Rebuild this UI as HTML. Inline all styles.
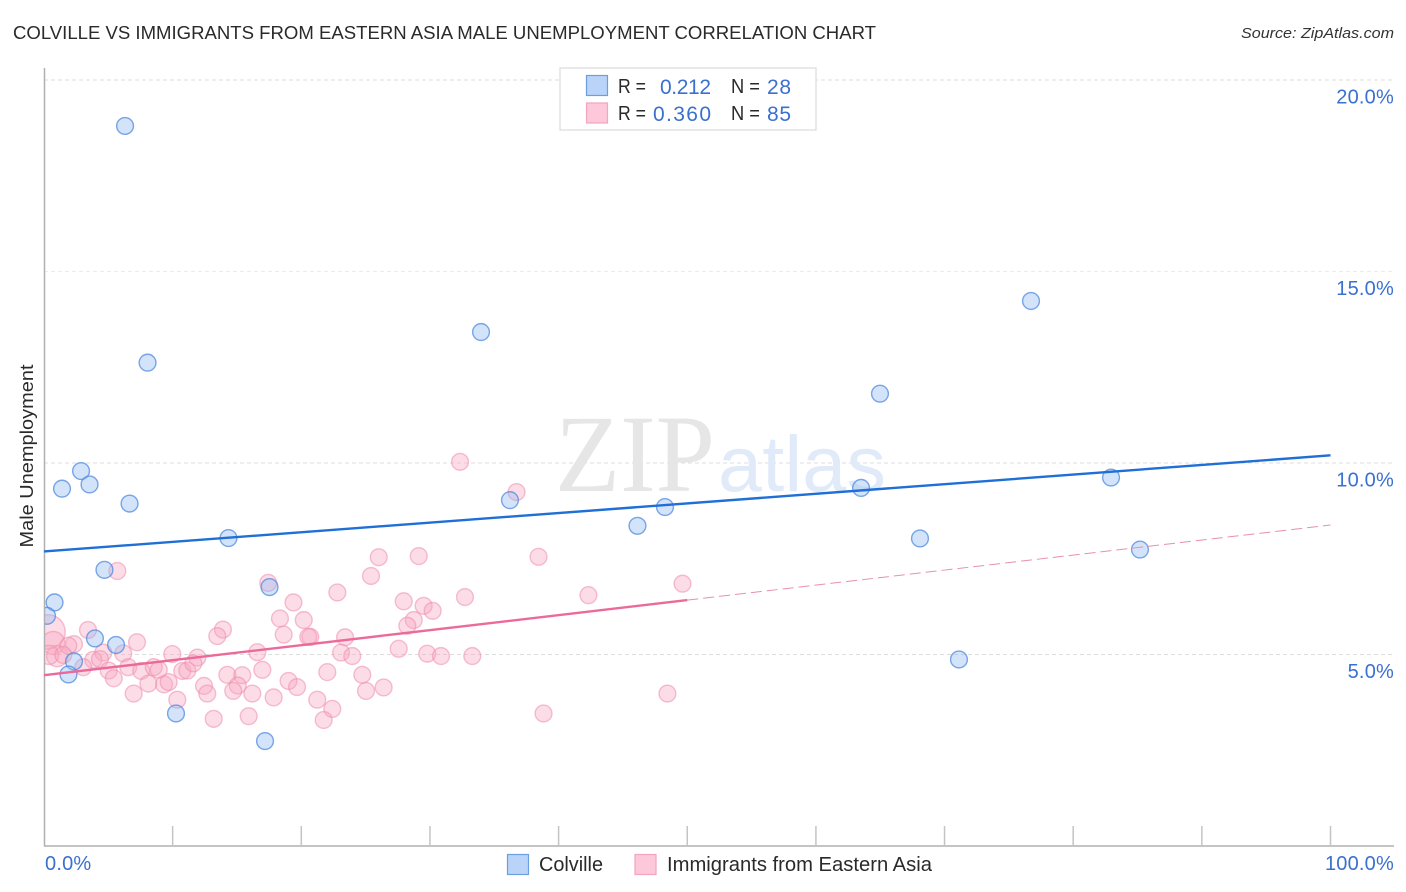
<!DOCTYPE html>
<html lang="en">
<head>
<meta charset="utf-8">
<title>Colville vs Immigrants from Eastern Asia Male Unemployment Correlation Chart</title>
<style>
html,body{margin:0;padding:0;background:#fff;}
svg{display:block;font-family:"Liberation Sans",sans-serif;}
</style>
</head>
<body>
<svg id="chart" xmlns="http://www.w3.org/2000/svg" width="1406" height="892" viewBox="0 0 1406 892">
  <defs><clipPath id="plot-clip"><rect x="45" y="60" width="1349" height="786"/></clipPath></defs>
  <rect x="0" y="0" width="1406" height="892" fill="#ffffff"/>
  <text x="13" y="39" font-size="18.5" fill="#2a2a2a" textLength="863" lengthAdjust="spacingAndGlyphs">COLVILLE VS IMMIGRANTS FROM EASTERN ASIA MALE UNEMPLOYMENT CORRELATION CHART</text>
  <text x="1241" y="38" font-size="15" font-style="italic" fill="#333" textLength="153" lengthAdjust="spacingAndGlyphs">Source: ZipAtlas.com</text>
  <g id="grid"></g>
  <text x="555" y="491" font-family="'Liberation Serif',serif" font-size="110" fill="#e6e6e6" textLength="160" lengthAdjust="spacingAndGlyphs">ZIP</text>
  <text x="718" y="491" font-family="'Liberation Sans',sans-serif" font-size="79" fill="#e1eaf9" textLength="168" lengthAdjust="spacing">atlas</text>
  <g id="axes"></g>
  <g id="marks" clip-path="url(#plot-clip)"></g>
  <g id="lines"></g>
  <text transform="translate(33,456) rotate(-90)" font-size="18.5" fill="#2a2a2a" text-anchor="middle" textLength="183" lengthAdjust="spacingAndGlyphs">Male Unemployment</text>
  <g id="labels"></g>

  <g>
    <rect x="560" y="68" width="256" height="62" fill="#fff" stroke="#dddddd" stroke-width="1.3"/>
    <rect x="586.5" y="75.5" width="21" height="20" fill="#b9d4f8" stroke="#6c9fe0" stroke-width="1.2"/>
    <rect x="586.5" y="103" width="21" height="20" fill="#fcc8da" stroke="#f3a4bf" stroke-width="1.2"/>
    <g font-size="20" fill="#2a2a2a">
      <text x="618" y="93" textLength="28" lengthAdjust="spacingAndGlyphs">R =</text>
      <text x="731" y="93" textLength="29" lengthAdjust="spacingAndGlyphs">N =</text>
      <text x="618" y="120" textLength="28" lengthAdjust="spacingAndGlyphs">R =</text>
      <text x="731" y="120" textLength="29" lengthAdjust="spacingAndGlyphs">N =</text>
    </g>
    <g font-size="21" fill="#3a70d0">
      <text x="660" y="94" textLength="51" lengthAdjust="spacing">0.212</text>
      <text x="767" y="94" textLength="24" lengthAdjust="spacing">28</text>
      <text x="653" y="121" textLength="58" lengthAdjust="spacing">0.360</text>
      <text x="767" y="121" textLength="24" lengthAdjust="spacing">85</text>
    </g>
  </g>

  <g>
    <rect x="507.5" y="854.5" width="21" height="20" fill="#b9d4f8" stroke="#6c9fe0" stroke-width="1.2"/>
    <text x="539" y="871" font-size="20" fill="#2a2a2a" textLength="64" lengthAdjust="spacingAndGlyphs">Colville</text>
    <rect x="635" y="854.5" width="21" height="20" fill="#fcc8da" stroke="#f3a4bf" stroke-width="1.2"/>
    <text x="667" y="871" font-size="20" fill="#2a2a2a" textLength="265" lengthAdjust="spacingAndGlyphs">Immigrants from Eastern Asia</text>
  </g>
</svg>
<script>
const yTickValues = [5, 10, 15, 20];
const yTickLabels = ["5.0%", "10.0%", "15.0%", "20.0%"];
const xTickValues = [10, 20, 30, 40, 50, 60, 70, 80, 90, 100];
const xEndValues = [0, 100];
const xEndLabels = ["0.0%", "100.0%"];

const colvilleX = [6.30,8.05,33.97,76.72,64.98,2.88,1.40,3.54,6.65,36.22,48.27,63.51,82.94,14.34,46.13,68.09,85.19,4.70,17.53,0.82,0.23,3.96,5.60,2.33,1.90,71.12,10.26,17.18];
const colvilleY = [18.80,12.62,13.42,14.23,11.81,9.79,9.33,9.44,8.94,9.03,8.85,9.35,9.62,8.04,8.36,8.03,7.74,7.21,6.76,6.36,6.01,5.42,5.25,4.82,4.48,4.87,3.46,2.74];

const asiaX = [0.31,0.72,1.03,0.39,5.70,17.43,19.39,18.34,18.63,20.19,3.42,13.91,13.47,7.23,2.33,1.89,1.50,4.61,6.16,9.97,11.92,16.58,3.83,4.35,3.05,5.03,5.42,6.55,7.56,8.53,8.92,8.11,6.97,9.33,9.69,10.75,11.14,11.61,10.36,12.44,12.69,14.25,15.41,15.06,14.71,16.19,16.97,19.01,19.67,17.85,13.19,15.91,26.02,29.13,25.42,22.80,27.96,32.72,29.51,30.21,20.70,20.54,23.40,28.74,28.24,27.57,23.09,23.96,29.79,30.86,33.29,22.02,24.74,25.03,26.40,21.24,22.41,21.74,32.34,36.73,38.44,42.32,49.63,48.46,38.83];
const asiaY = [5.59,5.30,4.96,4.99,7.18,6.87,6.36,5.94,5.52,5.90,5.64,5.65,5.48,5.32,5.27,5.23,4.99,5.05,5.03,5.01,4.92,5.06,4.86,4.88,4.67,4.58,4.38,4.67,4.57,4.67,4.60,4.24,3.98,4.22,4.28,4.57,4.58,4.77,3.82,4.18,3.98,4.47,4.46,4.19,4.05,3.98,4.60,4.31,4.15,3.88,3.32,3.39,7.54,7.57,7.05,6.62,6.39,6.50,6.27,6.14,5.46,5.46,5.45,5.90,5.75,5.15,5.05,4.96,5.02,4.96,4.96,4.54,4.47,4.05,4.14,3.82,3.58,3.29,10.03,9.24,7.55,6.55,6.85,3.98,3.46];
const asiaWeights = [4.2, 1.9, 1.6, 1.3];

const colvilleTrend = [7.69, 10.2];
const asiaTrend = [4.46, 8.38];
const asiaTrendSolidEnd = [50];

const SVG_NS = "http://www.w3.org/2000/svg";
function xScale(v) { return 44 + v * 12.865; }
function yScale(v) { return 846 - v * 38.3; }
function trendAt(trend, x) { return trend[0] + (trend[1] - trend[0]) * x / 100; }
function make(tag, parent, attrs, text) {
  const el = document.createElementNS(SVG_NS, tag);
  for (const k in attrs) el.setAttribute(k, attrs[k]);
  if (text !== undefined) el.textContent = text;
  parent.appendChild(el);
  return el;
}
const grid = document.getElementById("grid");
const axes = document.getElementById("axes");
const marks = document.getElementById("marks");
const linesG = document.getElementById("lines");
const labels = document.getElementById("labels");

yTickValues.forEach(function (v, i) {
  const gl = make("line", grid, {x1: 44, x2: 1394, y1: yScale(v), y2: yScale(v), stroke: v === 15 ? "#ececec" : "#dddddd", "stroke-width": 1, "stroke-dasharray": "4 3"});
  
  
  const t = make("text", labels, {x: 1394, y: yScale(v) + 23.5, "font-size": 20, "letter-spacing": 0.2, fill: "#3a70d0", "text-anchor": "end"}, yTickLabels[i]);
  
  
});

const xAxisLine = make("line", axes, {x1: 44, x2: 1394, y1: 846, y2: 846, stroke: "#b0b0b0", "stroke-width": 1.5});


const yAxisLine = make("line", axes, {x1: 44.5, x2: 44.5, y1: 68, y2: 846.5, stroke: "#b0b0b0", "stroke-width": 1.5});



xTickValues.forEach(function (v) {
  const tick = make("line", axes, {x1: xScale(v), x2: xScale(v), y1: 826, y2: 846, stroke: "#c4c4c4", "stroke-width": 1.5});
  
  
});
xEndValues.forEach(function (v, i) {
  const t = make("text", labels, {x: i === 0 ? xScale(v) + 1 : 1394, y: 870, "font-size": 20, "letter-spacing": 0.2, fill: "#3a70d0", "text-anchor": i === 0 ? "start" : "end"}, xEndLabels[i]);
  
  
});

asiaX.forEach(function (x, i) {
  const w = asiaWeights[i] === undefined ? 1 : asiaWeights[i];
  const c = make("circle", marks, {cx: xScale(x), cy: yScale(asiaY[i]), r: 8.4 * Math.sqrt(w), fill: "rgba(247,165,192,0.38)", stroke: "rgba(238,140,172,0.55)", "stroke-width": 1.4});
  
  
});
colvilleX.forEach(function (x, i) {
  const c = make("circle", marks, {cx: xScale(x), cy: yScale(colvilleY[i]), r: 8.4, fill: "rgba(140,185,242,0.38)", stroke: "rgba(75,135,222,0.72)", "stroke-width": 1.4});
  
  
});

const blueLine = make("line", linesG, {x1: xScale(0), y1: yScale(trendAt(colvilleTrend, 0)), x2: xScale(100), y2: yScale(trendAt(colvilleTrend, 100)), stroke: "#1f6fd6", "stroke-width": 2.4});


const pinkSolid = make("line", linesG, {x1: xScale(0), y1: yScale(trendAt(asiaTrend, 0)), x2: xScale(asiaTrendSolidEnd[0]), y2: yScale(trendAt(asiaTrend, asiaTrendSolidEnd[0])), stroke: "#ec6a9a", "stroke-width": 2.4});


const pinkDash = make("line", linesG, {x1: xScale(asiaTrendSolidEnd[0]), y1: yScale(trendAt(asiaTrend, asiaTrendSolidEnd[0])), x2: xScale(100), y2: yScale(trendAt(asiaTrend, 100)), stroke: "#e88fb0", "stroke-width": 1, "stroke-dasharray": "11 5"});


</script>
</body>
</html>
